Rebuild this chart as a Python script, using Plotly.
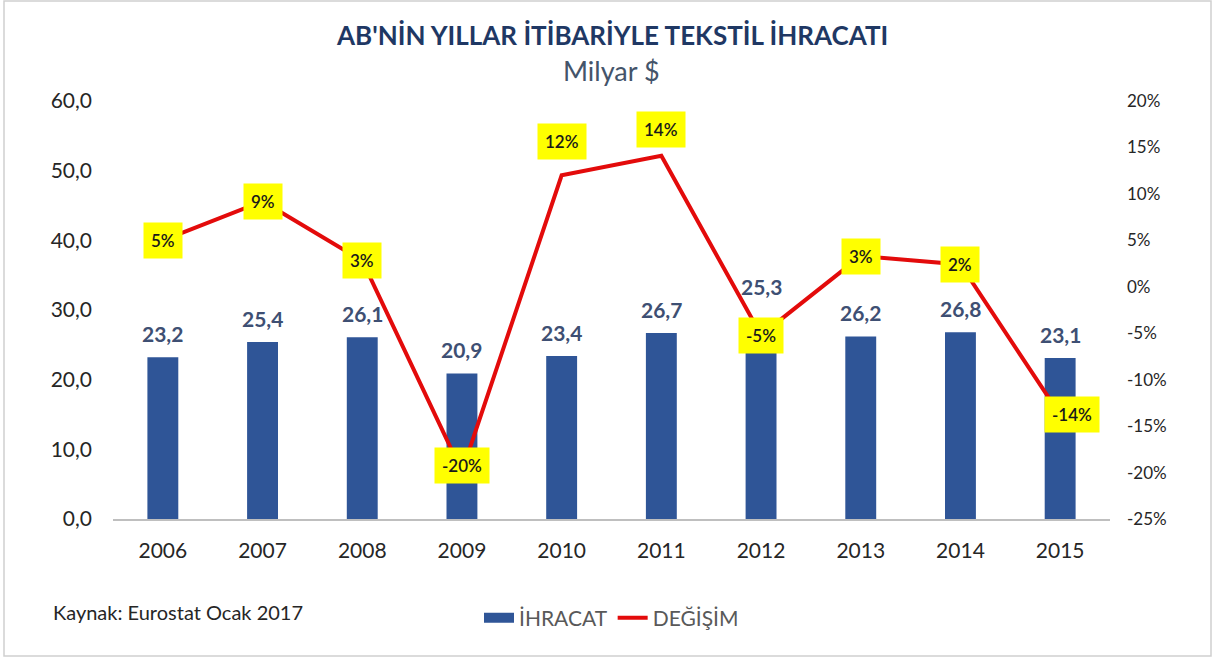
import plotly.graph_objects as go

years = ["2006", "2007", "2008", "2009", "2010", "2011", "2012", "2013", "2014", "2015"]
ihracat = [23.2, 25.4, 26.1, 20.9, 23.4, 26.7, 25.3, 26.2, 26.8, 23.1]
degisim = [0.050, 0.092, 0.028, -0.199, 0.120, 0.141, -0.052, 0.033, 0.024, -0.138]

right_tick_vals = [0.20, 0.15, 0.10, 0.05, 0.0, -0.05, -0.10, -0.15, -0.20, -0.25]
right_tick_text = ["20%", "15%", "10%", "5%", "0%", "-5%", "-10%", "-15%", "-20%", "-25%"]

title_text = "AB'NİN YILLAR İTİBARİYLE TEKSTİL İHRACATI"
subtitle_text = "Milyar $"
source_text = "Kaynak: Eurostat Ocak 2017"

BAR_COLOR = "#2F5597"
LINE_COLOR = "#E30B0B"
FONT = "Lato"

W, H = 1215, 659
L, R, T, B = 113, 105, 101, 140

def px_x(px):
    return (px - L) / (W - L - R)

def px_y(py):
    return (H - B - py) / (H - T - B)

fig = go.Figure()

fig.add_trace(go.Bar(
    x=years, y=ihracat, name="İHRACAT", showlegend=False,
    marker=dict(color=BAR_COLOR, line=dict(width=0)),
    width=0.31,
))
# legend swatch for the bars (wide rectangle like the original)
fig.add_trace(go.Scatter(
    x=[years[0]], y=[None], mode="lines", name="İHRACAT",
    line=dict(color=BAR_COLOR, width=10),
))
fig.add_trace(go.Scatter(
    x=years, y=degisim, name="DEĞİŞİM", mode="lines", yaxis="y2",
    line=dict(color=LINE_COLOR, width=4), cliponaxis=False,
))

annotations = []
# value labels above the bars (2012 label lifted above the yellow box)
bar_label_shift = {6: 42}
for i, v in enumerate(ihracat):
    annotations.append(dict(
        x=i, y=v, xref="x", yref="y",
        text=f"<b>{v:.1f}</b>".replace(".", ","), showarrow=False,
        yanchor="bottom", yshift=bar_label_shift.get(i, 9),
        font=dict(family=FONT, size=21, color="#3E4F73"),
    ))

# label offsets (pixels) for the percentage boxes
shift_y = {3: 6, 4: 34, 5: 26}
shift_x = {9: 12}
for i, v in enumerate(degisim):
    annotations.append(dict(
        x=i, y=v, xref="x", yref="y2",
        text=f"{round(v * 100):.0f}%", showarrow=False,
        bgcolor="#FFFF00", borderpad=7,
        font=dict(family=FONT, size=17, color="#1A1A1A", weight=600),
        xshift=shift_x.get(i, 0), yshift=shift_y.get(i, 0),
    ))

annotations += [
    dict(x=0.5, y=px_y(35), xref="paper", yref="paper", text=f"<b>{title_text}</b>",
         showarrow=False, font=dict(family=FONT, size=26, color="#1F3864"),
         xanchor="center", yanchor="middle"),
    dict(x=0.5, y=px_y(71), xref="paper", yref="paper", text=subtitle_text,
         showarrow=False, font=dict(family=FONT, size=27, color="#44546A"),
         xanchor="center", yanchor="middle"),
    dict(x=px_x(51), y=px_y(612), xref="paper", yref="paper", text=source_text,
         showarrow=False, font=dict(family=FONT, size=20, color="#262626"),
         xanchor="left", yanchor="middle"),
]

fig.update_layout(
    width=W, height=H,
    margin=dict(l=L, r=R, t=T, b=B),
    paper_bgcolor="white", plot_bgcolor="white",
    font=dict(family=FONT),
    xaxis=dict(
        type="category", range=[-0.5, len(years) - 0.5],
        showgrid=False, showline=True, linecolor="#BFBFBF", linewidth=1.5,
        ticks="", ticklabelstandoff=12,
        tickfont=dict(family=FONT, size=21, color="#262626"),
    ),
    yaxis=dict(
        range=[0, 60], dtick=10, tickformat=".1f", showgrid=False, zeroline=False,
        showline=False, ticks="", ticklabelstandoff=20,
        tickfont=dict(family=FONT, size=21, color="#262626"),
    ),
    yaxis2=dict(
        range=[-0.25, 0.20], tickvals=right_tick_vals, ticktext=right_tick_text,
        overlaying="y", side="right",
        showgrid=False, zeroline=False, showline=False, ticks="", ticklabelstandoff=16,
        tickfont=dict(family=FONT, size=17, color="#262626"),
    ),
    separators=",.",
    legend=dict(
        orientation="h", x=0.5, xanchor="center", y=px_y(618), yanchor="middle",
        font=dict(family=FONT, size=21, color="#595959"), itemwidth=30,
        traceorder="normal",
    ),
    annotations=annotations,
    shapes=[dict(type="rect", xref="paper", yref="paper",
                 x0=px_x(4), x1=px_x(1211), y0=px_y(656), y1=px_y(1),
                 line=dict(color="#D0D0D0", width=1.5), layer="below")],
)

fig.write_html("out.html", config={"displayModeBar": False},
               post_script="document.body.style.margin='0';")
